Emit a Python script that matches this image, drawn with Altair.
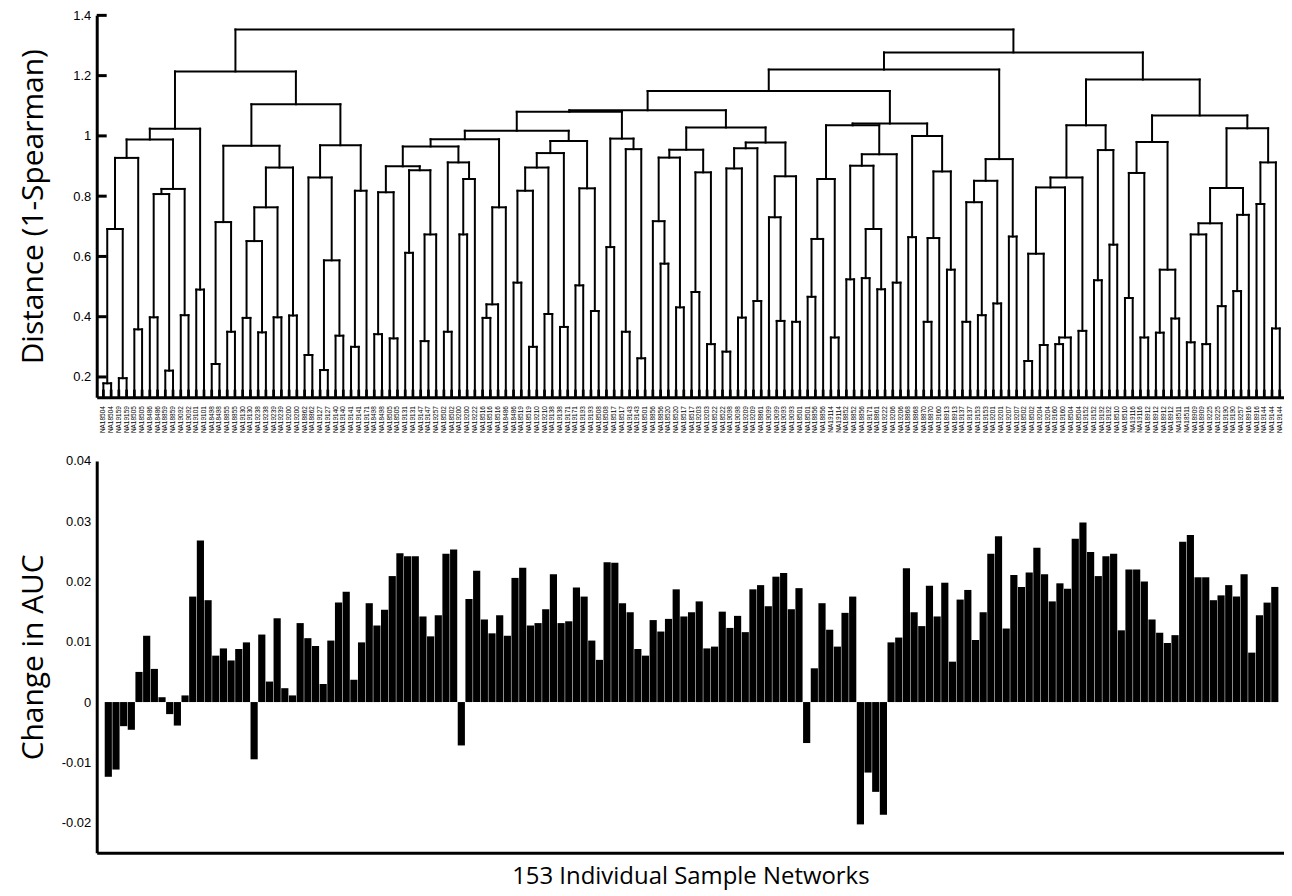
import json
import altair as alt
import pandas as pd

# ---------------- data ----------------
labels_a = ["18504","18504","19159","19159","18505","18505","18486","18486","18859","18859",
            "19092","19092","19101","19101","18498","18498","18855","18855","19130","19130",
            "19238","19238","19239","19239","19200","19200","18862","18862","19127","19127",
            "19140","19140","19141","19141","19171","18498","18498","18505","18505","19131",
            "19131","19147","19147","19257","18502","18502","19200","19200","19222"]
labels_b = ["18516","18516","18516","18486","18486","18519","18519","19210","19210","19138",
            "19138","19171","19171","19193","19193","18508","18508","18517","18517","19143",
            "19143","18501","18856","18856","18520","18520","18517","18517","19203","19203",
            "18522","18522","19098","19098","19209","19209","18861","19099","19099","19093",
            "19093","18501","18501","18856","18856","19114","19114","18852","18852","18856",
            "19171","18861"]
labels_c = ["19222","19206","19206","18868","18868","18870","18870","19160","18913","18913",
            "19137","19137","19153","19153","19201","19201","19207","19207","18502","18502",
            "19204","19204","19160","19160","18504","18504","19152","19152","19192","19192",
            "18510","18510","19116","19116","18912","18912","18912","18912","18511","18511",
            "18909","18909","19225","19225","19190","19190","19257","18916","18916","19144",
            "19144","19144"]
leaf_labels = ["NA" + s for s in labels_a + labels_b + labels_c]

auc_change = [
    -0.0124, -0.0112, -0.0040, -0.0046, 0.0050, 0.0110, 0.0055, 0.0008, -0.0020, -0.0039,
    0.0011, 0.0175, 0.0268, 0.0169, 0.0077, 0.0089, 0.0069, 0.0088, 0.0099, -0.0095,
    0.0112, 0.0034, 0.0139, 0.0023, 0.0011, 0.0131, 0.0106, 0.0093, 0.0030, 0.0102,
    0.0165, 0.0183, 0.0037, 0.0099, 0.0164, 0.0127, 0.0153, 0.0209, 0.0247, 0.0242,
    0.0242, 0.0142, 0.0109, 0.0144, 0.0246, 0.0253, -0.0072, 0.0171, 0.0218, 0.0137,
    0.0114, 0.0144, 0.0110, 0.0206, 0.0223, 0.0127, 0.0131, 0.0154, 0.0212, 0.0131,
    0.0134, 0.0190, 0.0175, 0.0102, 0.0070, 0.0232, 0.0231, 0.0164, 0.0149, 0.0088,
    0.0077, 0.0136, 0.0117, 0.0138, 0.0187, 0.0142, 0.0149, 0.0167, 0.0089, 0.0092,
    0.0150, 0.0123, 0.0143, 0.0116, 0.0187, 0.0194, 0.0159, 0.0208, 0.0214, 0.0154,
    0.0189, -0.0068, 0.0056, 0.0164, 0.0120, 0.0092, 0.0148, 0.0175, -0.0203, -0.0117,
    -0.0149, -0.0187, 0.0099, 0.0107, 0.0222, 0.0149, 0.0126, 0.0193, 0.0142, 0.0198,
    0.0067, 0.0170, 0.0186, 0.0103, 0.0149, 0.0246, 0.0275, 0.0122, 0.0211, 0.0191,
    0.0215, 0.0256, 0.0212, 0.0167, 0.0197, 0.0188, 0.0271, 0.0298, 0.0249, 0.0209,
    0.0242, 0.0246, 0.0119, 0.0220, 0.0220, 0.0200, 0.0137, 0.0115, 0.0098, 0.0111,
    0.0266, 0.0277, 0.0207, 0.0207, 0.0169, 0.0177, 0.0194, 0.0175, 0.0212, 0.0082,
    0.0144, 0.0165, 0.0191]

# dendrogram subtrees: (left, right, merge height); ints are leaf indices
A1 = ((((0, 1, 0.179), (2, 3, 0.196), 0.691), (4, 5, 0.358), 0.927),
      (((6, 7, 0.398), (8, 9, 0.221), 0.807), (10, 11, 0.405), 0.824), 0.988)
A2 = (((14, 15, 0.243), (16, 17, 0.35), 0.714),
      ((((18, 19, 0.396), (20, 21, 0.348), 0.651), (22, 23, 0.398), 0.763), (24, 25, 0.404), 0.895), 0.967)
A3 = (((26, 27, 0.273), ((28, 29, 0.223), (30, 31, 0.337), 0.587), 0.862), ((32, 33, 0.30), 34, 0.818), 0.969)
B1 = (((35, 36, 0.342), (37, 38, 0.328), 0.813), ((39, 40, 0.612), ((41, 42, 0.319), 43, 0.673), 0.886), 0.899)
B2 = ((44, 45, 0.35), ((46, 47, 0.673), 48, 0.857), 0.912)
B3 = (((49, 50, 0.396), 51, 0.441), 52, 0.763)
C = (((((53, 54, 0.513), (55, 56, 0.30), 0.818), (57, 58, 0.409), 0.895), (59, 60, 0.366), 0.943),
     ((61, 62, 0.504), (63, 64, 0.419), 0.826), 0.983)
D = ((65, 66, 0.631), ((67, 68, 0.35), (69, 70, 0.262), 0.956), 0.991)
E = (((71, (72, 73, 0.576), 0.717), (74, 75, 0.431), 0.928), ((76, 77, 0.482), (78, 79, 0.309), 0.879), 0.954)
F = ((((80, 81, 0.284), (82, 83, 0.397), 0.892), (84, 85, 0.452), 0.959),
     ((86, (87, 88, 0.386), 0.73), (89, 90, 0.383), 0.866), 0.978)
G1 = ((((91, 92, 0.466), 93, 0.658), (94, 95, 0.331), 0.857),
      (((96, 97, 0.524), ((98, 99, 0.528), (100, 101, 0.491), 0.691), 0.901), (102, 103, 0.513), 0.939), 1.035)
G2 = ((104, 105, 0.664), (((106, 107, 0.383), 108, 0.661), (109, 110, 0.556), 0.882), 1.0)
H = ((((111, 112, 0.383), (113, 114, 0.405), 0.78), (115, 116, 0.444), 0.851), (117, 118, 0.666), 0.923)
I1 = (((((119, 120, 0.253), (121, 122, 0.306), 0.609), ((123, 124, 0.309), 125, 0.331), 0.829),
       (126, 127, 0.353), 0.862), ((128, 129, 0.521), (130, 131, 0.639), 0.953), 1.035)
I2a = (((132, 133, 0.462), (134, 135, 0.331), 0.877), ((136, 137, 0.347), (138, 139, 0.394), 0.556), 0.98)
I2b = (((((140, 141, 0.315), (142, 143, 0.309), 0.673), (144, 145, 0.435), 0.71),
        ((146, 147, 0.485), 148, 0.738), 0.827), ((149, 150, 0.774), (151, 152, 0.361), 0.912), 1.025)

A = ((A1, (12, 13, 0.49), 1.024), (A2, A3, 1.105), 1.214)
BG = (((((B1, B2, 0.965), B3, 0.989), C, 1.017), D, 1.08), (E, F, 1.028), 1.085)
BGH = ((BG, (G1, G2, 1.041), 1.149), H, 1.22)
I = (I1, (I2a, I2b, 1.068), 1.187)
tree = (A, (BGH, I, 1.277), 1.353)

dend_ticks = [0.2, 0.4, 0.6, 0.8, 1.0, 1.2, 1.4]
auc_ticks = [-0.02, -0.01, 0, 0.01, 0.02, 0.03, 0.04]

DEND_MIN, DEND_MAX = 0.133, 1.4
AUC_MIN, AUC_MAX = -0.025, 0.04
X_DOMAIN = [-0.86, 152.55]
W = 1191
H_DEND = 383
H_BAR = 393

# ---------------- build dendrogram segments ----------------
segs = []


def walk(node):
    if isinstance(node, int):
        return float(node), DEND_MIN
    l, r, h = node
    xl, hl = walk(l)
    xr, hr = walk(r)
    segs.append(dict(x=xl, x2=xl, y=hl, y2=h))
    segs.append(dict(x=xr, x2=xr, y=hr, y2=h))
    segs.append(dict(x=xl, x2=xr, y=h, y2=h))
    return (xl + xr) / 2.0, h


walk(tree)
seg_df = pd.DataFrame(segs)
leaf_df = pd.DataFrame({"idx": list(range(len(leaf_labels))), "label": leaf_labels,
                        "lo": DEND_MIN, "hi": 0.158})
tick_df = pd.DataFrame({"v": dend_ticks})
bar_df = pd.DataFrame({"idx": list(range(len(auc_change))), "auc": auc_change})

TITLE_FONT = "Open Sans"
LABEL_FONT = "Liberation Sans"

xscale = alt.Scale(domain=X_DOMAIN, nice=False, zero=False)
yscale_d = alt.Scale(domain=[DEND_MIN, DEND_MAX], nice=False, zero=False)

dend_lines = alt.Chart(seg_df).mark_rule(color="black", strokeWidth=2, strokeCap="square").encode(
    x=alt.X("x:Q", scale=xscale,
            axis=alt.Axis(labels=False, ticks=False, grid=False, title=None,
                          domainWidth=3, domainColor="black")),
    x2="x2:Q",
    y=alt.Y("y:Q", scale=yscale_d,
            axis=alt.Axis(values=dend_ticks, format="~g", title="Distance (1-Spearman)",
                          ticks=False, grid=False, domainWidth=3, domainColor="black",
                          labelFontSize=13, labelFont=LABEL_FONT, labelColor="black",
                          labelPadding=6, minExtent=45, maxExtent=45, titlePadding=3,
                          titleFontSize=30, titleFont=TITLE_FONT, titleFontWeight="normal",
                          titleColor="black")),
    y2="y2:Q",
)

leaf_comb = alt.Chart(leaf_df).mark_rule(color="black", strokeWidth=2.7).encode(
    x=alt.X("idx:Q", scale=xscale),
    y=alt.Y("lo:Q", scale=yscale_d),
    y2="hi:Q",
)

leaf_text = alt.Chart(leaf_df).mark_text(
    angle=270, align="right", baseline="middle", fontSize=6.5, font=LABEL_FONT, color="black"
).encode(
    x=alt.X("idx:Q", scale=xscale),
    y=alt.value(H_DEND + 9),
    text="label:N",
)

y_ticks = alt.Chart(tick_df).mark_rule(color="black", strokeWidth=3).encode(
    y=alt.Y("v:Q", scale=yscale_d),
    x=alt.value(0),
    x2=alt.value(10),
)

dend = alt.layer(dend_lines, leaf_comb, leaf_text, y_ticks).properties(width=W, height=H_DEND)

bars = alt.Chart(bar_df).mark_bar(color="black", size=7.2).encode(
    x=alt.X("idx:Q", scale=xscale,
            axis=alt.Axis(labels=False, ticks=False, grid=False, domainWidth=3,
                          domainColor="black", title="153 Individual Sample Networks",
                          titleFontSize=24, titleFont=TITLE_FONT, titleFontWeight="normal",
                          titleColor="black", titlePadding=12)),
    y=alt.Y("auc:Q", scale=alt.Scale(domain=[AUC_MIN, AUC_MAX], nice=False),
            axis=alt.Axis(values=auc_ticks, format="~g",
                          labelExpr="replace(datum.label, '\u2212', '-')",
                          title="Change in AUC", ticks=False, grid=False,
                          domainWidth=3, domainColor="black",
                          labelFontSize=13, labelFont=LABEL_FONT, labelColor="black",
                          labelPadding=6, minExtent=45, maxExtent=45, titlePadding=3,
                          titleFontSize=30, titleFont=TITLE_FONT, titleFontWeight="normal",
                          titleColor="black")),
).properties(width=W, height=H_BAR)

chart = alt.vconcat(dend, bars, spacing=21).properties(
    padding={"left": 11, "top": 0, "right": 0, "bottom": 0},
    background="white",
).configure_view(stroke=None)

chart.save("out.html", embed_options={"renderer": "svg", "actions": False})
